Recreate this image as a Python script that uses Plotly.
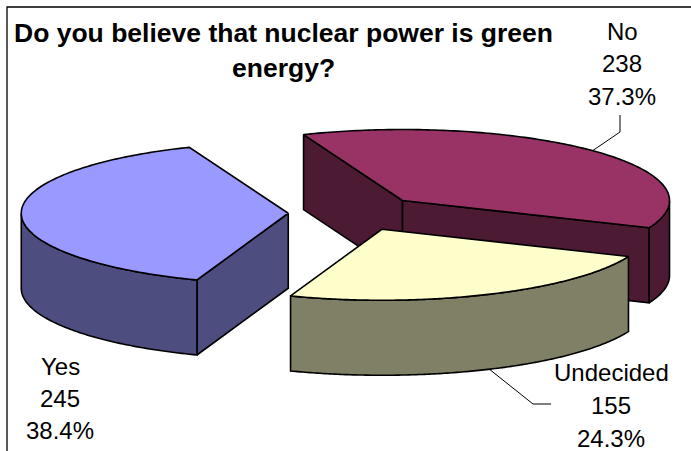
import numpy as np
import plotly.graph_objects as go

# ---- data ----
categories = ["Yes", "No", "Undecided"]
values = [245, 238, 155]
title_lines = ["Do you believe that nuclear power is green", "energy?"]

# ---- styles ----
top_colors = ["#9999FF", "#993366", "#FFFFCC"]
side_colors = ["#4D4D80", "#4D1A33", "#808066"]
FONT = "Liberation Sans, Arial, sans-serif"
LABEL_SIZE = 24
TITLE_SIZE = 26.5
W, H = 691, 451

# ---- projection of the tilted, exploded pie (pixels of the page) ----
CX, CY = 355, 213
RX, RY = 267, 71
DEPTH = 75
EXPLODE = 0.25
START_DEG = 250.0


def project(cx, cy, deg, drop=0.0):
    t = np.radians(deg)
    return cx + RX * np.cos(t), cy - RY * np.sin(t) + drop


def polygon(fig, xs, ys, color):
    xs, ys = list(xs), list(ys)
    fig.add_trace(go.Scatter(
        x=xs + xs[:1], y=ys + ys[:1], mode="lines", fill="toself",
        fillcolor=color, line=dict(color="#000000", width=1.6, simplify=False),
        hoverinfo="skip", showlegend=False))


fig = go.Figure()
total = sum(values)
spans = [v / total * 360 for v in values]
highs = [START_DEG - sum(spans[:i]) for i in range(len(values))]

leader_anchor = {}
for i, (name, span, hi) in enumerate(zip(categories, spans, highs)):
    lo = hi - span
    mid = (hi + lo) / 2
    t = np.radians(mid)
    ax = CX + EXPLODE * RX * np.cos(t)
    ay = CY - EXPLODE * RY * np.sin(t)
    arc = np.linspace(hi, lo, 160)
    ex, ey = project(ax, ay, arc)

    # cut faces that turn towards the viewer
    for deg, visible in ((hi, np.cos(np.radians(hi)) < 0), (lo, np.cos(np.radians(lo)) > 0)):
        if visible:
            px, py = project(ax, ay, deg)
            polygon(fig, [ax, px, px, ax], [ay, py, py + DEPTH, ay + DEPTH], side_colors[i])

    # outer rim: the part of the arc on the near half of the ellipse
    near = arc[np.sin(np.radians(arc)) <= 0]
    if near.size:
        nx, ny = project(ax, ay, near)
        polygon(fig, np.r_[nx, nx[::-1]], np.r_[ny, ny[::-1] + DEPTH], side_colors[i])

    # top face
    polygon(fig, np.r_[ax, ex], np.r_[ay, ey], top_colors[i])

    rim_drop = DEPTH if np.sin(t) < 0 else 0
    leader_anchor[name] = project(ax, ay, mid, rim_drop)

# ---- leader lines ----
shapes = [dict(type="rect", xref="x", yref="y", x0=7, y0=7, x1=W + 20, y1=H + 20,
               line=dict(color="#000000", width=1.3), fillcolor="rgba(0,0,0,0)", layer="below")]
for name, bend, end in (("No", (620, 132), (620, 115)), ("Undecided", (533, 404), (551, 404))):
    sx, sy = leader_anchor[name]
    shapes.append(dict(type="path", xref="x", yref="y",
                       path=f"M {sx:.1f} {sy:.1f} L {bend[0]} {bend[1]} L {end[0]} {end[1]}",
                       line=dict(color="#000000", width=1)))

# ---- text ----
annotations = []


def text(x, y, s, size=LABEL_SIZE, bold=False):
    annotations.append(dict(
        x=x, y=y, xref="x", yref="y", text=f"<b>{s}</b>" if bold else s,
        showarrow=False, xanchor="center", yanchor="middle",
        font=dict(family=FONT, size=size, color="#000000")))


text(283, 33, title_lines[0], size=TITLE_SIZE, bold=True)
text(283, 68, title_lines[1], size=TITLE_SIZE, bold=True)

label_pos = {"Yes": (60, (366, 398, 430)), "No": (622, (31, 63, 96)), "Undecided": (611, (372, 405, 438))}
for name, v in zip(categories, values):
    x, ys = label_pos[name]
    for y, s in zip(ys, (name, str(v), f"{v / total * 100:.1f}%")):
        text(x, y, s)

fig.update_layout(
    width=W, height=H, margin=dict(l=0, r=0, t=0, b=0),
    paper_bgcolor="#FFFFFF", plot_bgcolor="#FFFFFF", showlegend=False,
    xaxis=dict(range=[0, W], visible=False, fixedrange=True),
    yaxis=dict(range=[H, 0], visible=False, fixedrange=True),
    shapes=shapes, annotations=annotations)

fig.write_html("out.html", config={"displayModeBar": False},
               post_script="document.body.style.margin='0';document.documentElement.style.overflow='hidden';")
